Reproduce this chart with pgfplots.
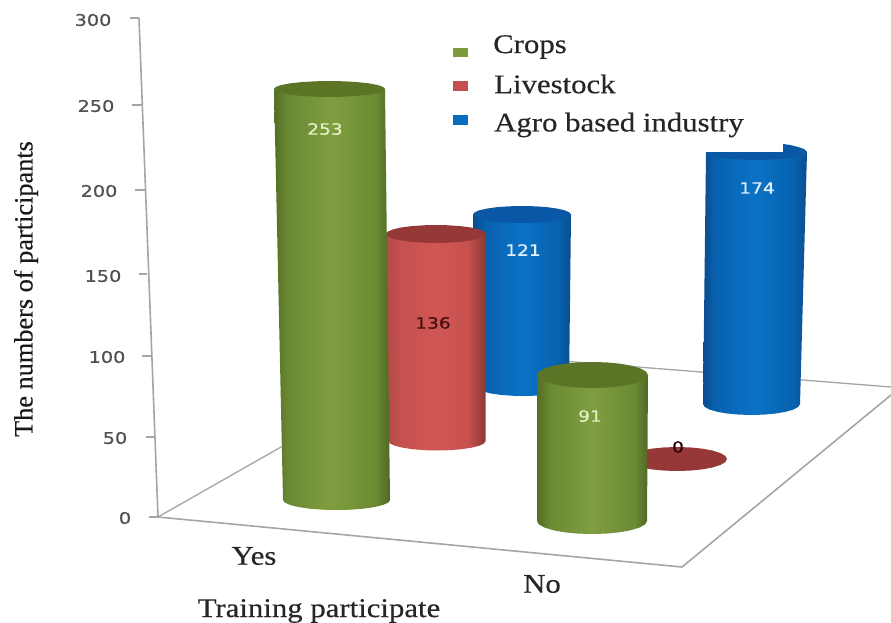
\documentclass[border=0pt]{standalone}
\usepackage{pgfplots}
\usepackage{fontspec}
\pgfplotsset{compat=1.18}
\setmainfont{Liberation Serif}
\newfontfamily\wserif[FakeStretch=1.14,FakeBold=0.4]{Liberation Serif}
\newfontfamily\yserif[FakeBold=0.4]{Liberation Serif}
\newfontfamily\tickf[FakeStretch=1.2,FakeBold=0.7]{DejaVu Sans}
\definecolor{capG}{RGB}{92,116,38}
\definecolor{capR}{RGB}{150,56,55}
\definecolor{capB}{RGB}{10,88,165}
\definecolor{floorline}{RGB}{165,165,165}
\definecolor{ticktext}{RGB}{80,80,80}
\pgfdeclarehorizontalshading{gbar}{100bp}{rgb(0bp)=(.33,.43,.15);rgb(25bp)=(.33,.43,.15);rgb(31bp)=(.42,.54,.20);rgb(50bp)=(.50,.62,.25);rgb(69bp)=(.42,.54,.20);rgb(75bp)=(.31,.41,.14);rgb(100bp)=(.31,.41,.14)}
\pgfdeclarehorizontalshading{rbar}{100bp}{rgb(0bp)=(.70,.29,.28);rgb(25bp)=(.70,.29,.28);rgb(33bp)=(.78,.32,.31);rgb(50bp)=(.82,.34,.33);rgb(66bp)=(.78,.32,.31);rgb(75bp)=(.54,.22,.21);rgb(100bp)=(.54,.22,.21)}
\pgfdeclarehorizontalshading{bbar}{100bp}{rgb(0bp)=(.04,.30,.56);rgb(25bp)=(.04,.30,.56);rgb(31bp)=(.03,.38,.68);rgb(50bp)=(.04,.45,.78);rgb(69bp)=(.03,.38,.68);rgb(75bp)=(.04,.30,.56);rgb(100bp)=(.04,.30,.56)}
\begin{document}
\begin{tikzpicture}[
  ticklab/.style={font=\fontsize{16}{16}\selectfont\tickf, text=ticktext, inner sep=0pt},
  vallab/.style={font=\fontsize{15.5}{16}\selectfont\tickf, inner sep=0pt},
  sertext/.style={font=\fontsize{27}{27}\selectfont\wserif, text=black!85, inner sep=0pt, anchor=west}]
\path[use as bounding box] (0,0) rectangle (891pt,623pt);
\begin{axis}[hide axis, scale only axis, width=891pt, height=623pt, at={(0,0)}, anchor=south west,
  xmin=0, xmax=891, ymin=0, ymax=623, y dir=reverse, clip=false]
% wall and floor
\addplot[floorline, line width=1.6pt] coordinates {(139,18)(158,517)(682,567)(891,395)};
\addplot[floorline, line width=1.3pt] coordinates {(158,517)(448,352)(891,387)};
\addplot[floorline, line width=1.3pt] coordinates {(130,18)(139,18)};
\addplot[floorline, line width=1.3pt] coordinates {(132,105)(143,105)};
\addplot[floorline, line width=1.3pt] coordinates {(135,190)(145,190)};
\addplot[floorline, line width=1.3pt] coordinates {(139,274)(147,274)};
\addplot[floorline, line width=1.3pt] coordinates {(142,356)(152,356)};
\addplot[floorline, line width=1.3pt] coordinates {(146,437)(155,437)};
\addplot[floorline, line width=1.3pt] coordinates {(149,517)(158,517)};
% Agro based industry, Yes: 121
\addplot[draw=none, shading=bbar] coordinates {(473,214.5)(571,214.5)(569,387)(567.4,389.3)(562.8,391.5)(555.5,393.4)(546,394.8)(534.9,395.7)(523,396)(511.1,395.7)(500,394.8)(490.5,393.4)(483.2,391.5)(478.6,389.3)(477,387)} --cycle;
\addplot[draw=none, fill=capB] coordinates {(571,214.5)(569.3,216.7)(564.4,218.8)(556.6,220.5)(546.5,221.9)(534.7,222.7)(522,223)(509.3,222.7)(497.5,221.9)(487.4,220.5)(479.6,218.8)(474.7,216.7)(473,214.5)(474.7,212.3)(479.6,210.2)(487.4,208.5)(497.5,207.1)(509.3,206.3)(522,206)(534.7,206.3)(546.5,207.1)(556.6,208.5)(564.4,210.2)(569.3,212.3)} --cycle;
% Livestock, Yes: 136
\addplot[draw=none, shading=rbar] coordinates {(386,234)(486,234)(485.5,441)(483.9,443.5)(479,445.8)(471.3,447.7)(461.3,449.2)(449.6,450.2)(437,450.5)(424.4,450.2)(412.7,449.2)(402.7,447.7)(395,445.8)(390.1,443.5)(388.5,441)} --cycle;
\addplot[draw=none, fill=capR] coordinates {(486,234)(484.3,236.3)(479.3,238.5)(471.4,240.4)(461,241.8)(449,242.7)(436,243)(423,242.7)(411,241.8)(400.6,240.4)(392.7,238.5)(387.7,236.3)(386,234)(387.7,231.7)(392.7,229.5)(400.6,227.6)(411,226.2)(423,225.3)(436,225)(449,225.3)(461,226.2)(471.4,227.6)(479.3,229.5)(484.3,231.7)} --cycle;
% Crops, Yes: 253
\addplot[draw=none, shading=gbar] coordinates {(274,89)(385,89)(390,500)(388.2,502.6)(382.8,505)(374.3,507.1)(363.3,508.7)(350.4,509.7)(336.5,510)(322.6,509.7)(309.7,508.7)(298.7,507.1)(290.2,505)(284.8,502.6)(283,500)} --cycle;
\addplot[draw=none, fill=capG] coordinates {(385,89)(383.1,91.1)(377.6,93)(368.7,94.7)(357.3,95.9)(343.9,96.7)(329.5,97)(315.1,96.7)(301.7,95.9)(290.3,94.7)(281.4,93)(275.9,91.1)(274,89)(275.9,86.9)(281.4,85)(290.3,83.3)(301.7,82.1)(315.1,81.3)(329.5,81)(343.9,81.3)(357.3,82.1)(368.7,83.3)(377.6,85)(383.1,86.9)} --cycle;
% Agro based industry, No: 174
\addplot[draw=none, shading=bbar] coordinates {(706,152)(807,152)(800,404)(798.4,406.8)(793.5,409.5)(785.8,411.8)(775.8,413.5)(764.1,414.6)(751.5,415)(738.9,414.6)(727.2,413.5)(717.2,411.8)(709.5,409.5)(704.6,406.8)(703,404)} --cycle;
\addplot[draw=none, fill=capB] coordinates {(807,152)(805.3,154.1)(800.2,156)(792.2,157.7)(781.8,158.9)(769.6,159.7)(756.5,160)(743.4,159.7)(731.2,158.9)(720.8,157.7)(712.8,156)(707.7,154.1)(706,152)(783,152)(783,144)(790,145)(798,147)(804,149)} --cycle;
% Livestock, No: 0
\addplot[draw=none, fill=capR] coordinates {(727,459)(725.3,462.1)(720.3,465)(712.4,467.5)(702,469.4)(690,470.6)(677,471)(664,470.6)(652,469.4)(641.6,467.5)(633.7,465)(628.7,462.1)(627,459)(628.7,455.9)(633.7,453)(641.6,450.5)(652,448.6)(664,447.4)(677,447)(690,447.4)(702,448.6)(712.4,450.5)(720.3,453)(725.3,455.9)} --cycle;
% Crops, No: 91
\addplot[draw=none, shading=gbar] coordinates {(537,375)(648,375)(647,521)(645.1,524.4)(639.6,527.5)(630.9,530.2)(619.5,532.3)(606.2,533.6)(592,534)(577.8,533.6)(564.5,532.3)(553.1,530.2)(544.4,527.5)(538.9,524.4)(537,521)} --cycle;
\addplot[draw=none, fill=capG] coordinates {(648,375)(646.1,378.4)(640.6,381.5)(631.7,384.2)(620.3,386.3)(606.9,387.6)(592.5,388)(578.1,387.6)(564.7,386.3)(553.3,384.2)(544.4,381.5)(538.9,378.4)(537,375)(538.9,371.6)(544.4,368.5)(553.3,365.8)(564.7,363.7)(578.1,362.4)(592.5,362)(606.9,362.4)(620.3,363.7)(631.7,365.8)(640.6,368.5)(646.1,371.6)} --cycle;
% legend keys
\addplot[draw=none, fill={rgb,255:red,125;green,155;blue,60}] coordinates {(453,48)(468,48)(468,57)(453,57)} --cycle;
\addplot[draw=none, fill={rgb,255:red,195;green,80;blue,77}] coordinates {(453,81)(468,81)(468,91)(453,91)} --cycle;
\addplot[draw=none, fill={rgb,255:red,10;green,108;blue,190}] coordinates {(453,115)(468,115)(468,125)(453,125)} --cycle;
% tick labels
\node[ticklab] at (axis cs:93,20) {300};
\node[ticklab] at (axis cs:96,106) {250};
\node[ticklab] at (axis cs:99,191) {200};
\node[ticklab] at (axis cs:103,276) {150};
\node[ticklab] at (axis cs:107,357) {100};
\node[ticklab] at (axis cs:115,438) {50};
\node[ticklab] at (axis cs:125,518) {0};
% value labels
\node[vallab, text={rgb,255:red,228;green,238;blue,195}] at (axis cs:325,129) {253};
\node[vallab, text={rgb,255:red,70;green,15;blue,15}] at (axis cs:433,323) {136};
\node[vallab, text={rgb,255:red,225;green,238;blue,250}] at (axis cs:523,250) {121};
\node[vallab, text={rgb,255:red,225;green,238;blue,250}] at (axis cs:757,188) {174};
\node[vallab, text={rgb,255:red,228;green,238;blue,195}] at (axis cs:590,416) {91};
\node[vallab, text={rgb,255:red,40;green,5;blue,5}] at (axis cs:678,447) {0};
% legend text
\node[sertext] at (axis cs:493,47) {Crops};
\node[sertext] at (axis cs:494,84) {Livestock};
\node[sertext] at (axis cs:494,125) {Agro based industry};
% axis text
\node[sertext, anchor=center] at (axis cs:254,556) {Yes};
\node[sertext, anchor=center] at (axis cs:542,584) {No};
\node[sertext, anchor=center] at (axis cs:319,611) {Training participate};
\node[font=\fontsize{26.3}{26}\selectfont\yserif, text=black!90, inner sep=0pt, rotate=90] at (axis cs:26,289) {The numbers of participants};
\end{axis}
\end{tikzpicture}
\end{document}
